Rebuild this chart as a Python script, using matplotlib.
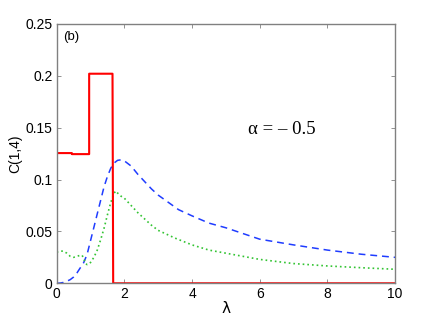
import matplotlib
matplotlib.use("Agg")
import matplotlib.pyplot as plt

# ---- data ----
red_lambda = [0, 0, 0.45, 0.45, 0.96, 0.96, 1.65, 1.67, 10]
red_C = [0.1, 0.1255, 0.1255, 0.1245, 0.1245, 0.202, 0.202, 0.0, 0.0]

blue_lambda = [0, 0.1, 0.2, 0.3, 0.4, 0.5, 0.6, 0.7, 0.8, 0.9, 1.0, 1.1, 1.2, 1.3,
               1.4, 1.5, 1.6, 1.7, 1.8, 1.9, 2.0, 2.2, 2.4, 2.6, 2.8, 3.0, 3.3,
               3.6, 4.0, 4.5, 5.0, 5.5, 6.0, 7.0, 8.0, 9.0, 10.0]
blue_C = [0.0, 0.0002, 0.0008, 0.002, 0.0035, 0.006, 0.010, 0.015, 0.020, 0.028,
          0.041, 0.054, 0.067, 0.080, 0.093, 0.103, 0.111, 0.116, 0.1185, 0.119,
          0.118, 0.113, 0.105, 0.098, 0.091, 0.085, 0.078, 0.071, 0.065, 0.058,
          0.0535, 0.048, 0.0425, 0.037, 0.032, 0.028, 0.025]

green_lambda = [0, 0.1, 0.2, 0.3, 0.4, 0.5, 0.6, 0.7, 0.75, 0.8, 0.85, 0.9, 0.95,
                1.0, 1.1, 1.2, 1.3, 1.4, 1.5, 1.6, 1.7, 1.75, 1.8, 1.9, 2.0, 2.2,
                2.4, 2.6, 2.8, 3.0, 3.5, 4.0, 4.5, 5.0, 6.0, 7.0, 8.0, 9.0, 10.0]
green_C = [0.030, 0.031, 0.031, 0.029, 0.026, 0.025, 0.026, 0.027, 0.027, 0.024,
           0.019, 0.018, 0.0185, 0.020, 0.025, 0.032, 0.042, 0.053, 0.066, 0.078,
           0.087, 0.089, 0.087, 0.084, 0.082, 0.075, 0.068, 0.062, 0.056, 0.051,
           0.0435, 0.037, 0.032, 0.029, 0.023, 0.019, 0.0167, 0.015, 0.0135]

x_ticks = [0, 2, 4, 6, 8, 10]
x_ticklabels = ["0", "2", "4", "6", "8", "10"]
y_ticks = [0, 0.05, 0.1, 0.15, 0.2, 0.25]
y_ticklabels = ["0", "0.05", "0.1", "0.15", "0.2", "0.25"]

# ---- figure ----
fig = plt.figure(figsize=(4.36, 3.19), dpi=100)
ax = fig.add_axes([0.130, 0.112, 0.776, 0.813])

ax.plot(blue_lambda, blue_C, color="#1f3cff", lw=1.1, linestyle=(0, (4.5, 3.2)))
ax.plot(green_lambda, green_C, color="#33c433", lw=1.2, linestyle=(0, (1, 1.8)))
ax.plot(red_lambda, red_C, color="#ff0000", lw=1.5)

ax.set_xlim(0, 10)
ax.set_ylim(0, 0.25)
ax.set_xticks(x_ticks)
ax.set_xticklabels(x_ticklabels)
ax.set_yticks(y_ticks)
ax.set_yticklabels(y_ticklabels)

for s in ax.spines.values():
    s.set_color("#808080")
    s.set_linewidth(1.0)
ax.tick_params(direction="in", top=True, right=True, length=3, width=0.6,
               color="#808080", labelsize=10, pad=3)
for lab in ax.get_xticklabels() + ax.get_yticklabels():
    lab.set_family("Liberation Sans")

ax.set_ylabel("C(1,4)", family="Liberation Sans", fontsize=10, labelpad=2)
ax.set_xlabel("λ", family="DejaVu Sans", fontsize=11, labelpad=0)

ax.text(0.18, 0.237, "(b)", family="Liberation Sans", fontsize=9.5,
        ha="left", va="center")
ax.text(6.65, 0.148, "α = – 0.5", family="Liberation Serif", fontsize=13.5,
        ha="center", va="center")

fig.savefig("out.png", dpi=100)
